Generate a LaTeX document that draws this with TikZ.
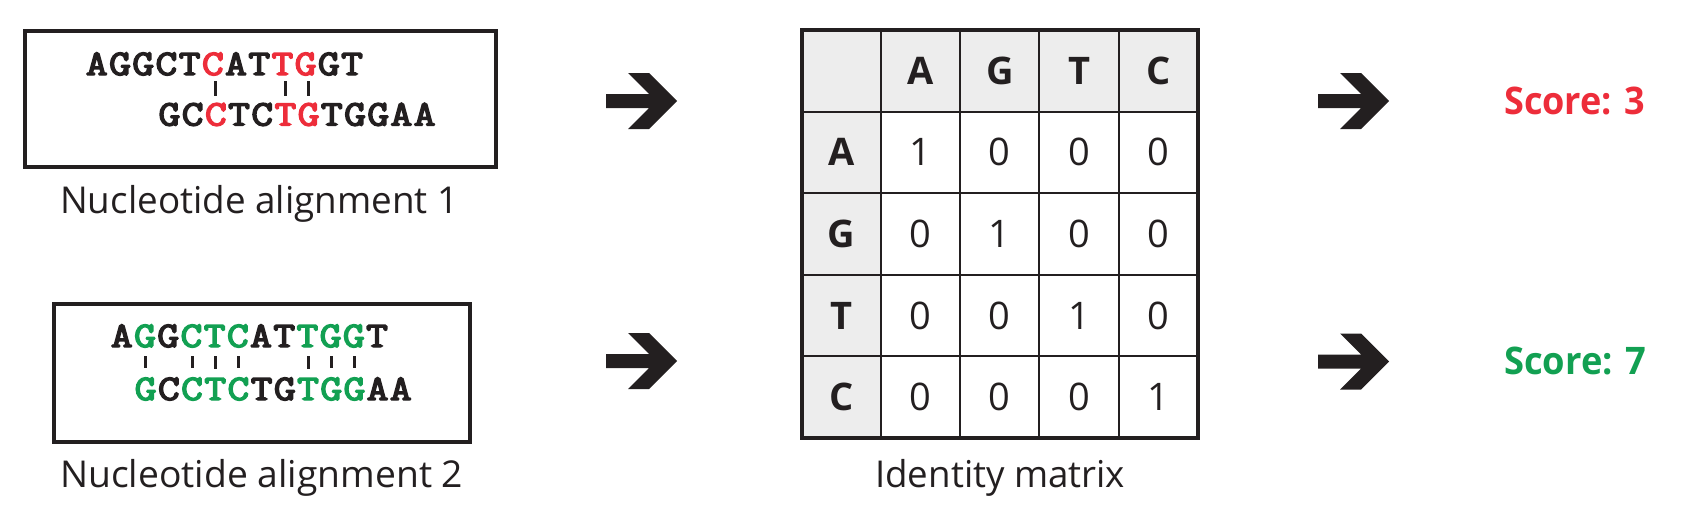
\documentclass[tikz,border=0pt]{standalone}
\usepackage{fontspec}
\usepackage{graphicx}
\newfontfamily\labfont{Open Sans}
\newfontfamily\seqfont{Latin Modern Mono}[FakeBold=4]
\usetikzlibrary{calc}
\definecolor{ink}{RGB}{35,31,32}
\definecolor{scorered}{RGB}{237,45,58}
\definecolor{scoregreen}{RGB}{18,160,82}
\definecolor{hdrgray}{RGB}{237,237,237}
\newcommand\fitto[2]{\resizebox{#1}{\height}{#2}}
\tikzset{
  chevron/.pic={\fill[ink] (-71,-7) -- (-28,-7) -- (-49,-28) -- (-28,-28) -- (0,0) -- (-28,28) -- (-49,28) -- (-28,7) -- (-71,7) -- cycle;},
  seq/.style={inner sep=0pt, anchor=base, font=\seqfont\fontsize{36}{36}\selectfont},
  bar/.style={draw=ink, line width=3pt},
  seqbox/.style={draw=ink, line width=4pt, inner sep=0pt},
  lab/.style={inner sep=0pt, anchor=base west, text=ink, font=\labfont\fontsize{37}{37}\selectfont},
  hdr/.style={inner sep=0pt, anchor=base, text=ink, font=\labfont\bfseries\fontsize{38}{38}\selectfont},
  num/.style={inner sep=0pt, anchor=base, text=ink, font=\labfont\fontsize{38}{38}\selectfont},
  score/.style={inner sep=0pt, anchor=base west, font=\labfont\bfseries\fontsize{38}{38}\selectfont},
}
\begin{document}
\begin{tikzpicture}[x=1pt,y=-1pt]
\useasboundingbox (0,0) rectangle (1685,523);

% ---------- alignment 1 ----------
\node[seqbox, minimum width=471pt, minimum height=136pt] (box1) at (260.5,99) {};
\foreach \c/\col [count=\i from 0] in {A/ink,G/ink,G/ink,C/ink,T/ink,C/scorered,A/ink,T/ink,T/scorered,G/scorered,G/ink,T/ink}
  \node[seq, text=\col] (ta\i) at (96.8+23.2*\i,75) {\scalebox{1.17}[1]{\c}};
\foreach \c/\col [count=\i from 0] in {G/ink,C/ink,C/scorered,T/ink,C/ink,T/scorered,G/scorered,T/ink,G/ink,G/ink,A/ink,A/ink}
  \node[seq, text=\col] (ba\i) at (169.4+23.2*\i,125.5) {\scalebox{1.17}[1]{\c}};
\foreach \t/\b in {5/2,8/5,9/6}
  \draw[bar, shorten <=6pt, shorten >=7pt] (ba\b.north |- ta\t.base) -- (ba\b.north);
\node[lab] (lab1) at (60,213) {\fitto{398pt}{Nucleotide alignment 1}};

% ---------- alignment 2 ----------
\node[seqbox, minimum width=416pt, minimum height=138pt] (box2) at (262,373) {};
\foreach \c/\col [count=\i from 0] in {A/ink,G/scoregreen,G/ink,C/scoregreen,T/scoregreen,C/scoregreen,A/ink,T/ink,T/scoregreen,G/scoregreen,G/scoregreen,T/ink}
  \node[seq, text=\col] (tb\i) at (121.8+23.2*\i,347) {\scalebox{1.17}[1]{\c}};
\foreach \c/\col [count=\i from 0] in {G/scoregreen,C/ink,C/scoregreen,T/scoregreen,C/scoregreen,T/ink,G/ink,T/scoregreen,G/scoregreen,G/scoregreen,A/ink,A/ink}
  \node[seq, text=\col] (bb\i) at (145.6+23.2*\i,400) {\scalebox{1.17}[1]{\c}};
\foreach \t/\b in {1/0,3/2,4/3,5/4,8/7,9/8,10/9}
  \draw[bar, shorten <=9pt, shorten >=9pt] (bb\b.north |- tb\t.base) -- (bb\b.north);
\node[lab] (lab2) at (60,487) {\fitto{403pt}{Nucleotide alignment 2}};

% ---------- arrows ----------
\pic at (677,101) {chevron};
\pic at (677,361) {chevron};
\pic at (1389,101) {chevron};
\pic at (1389,361.5) {chevron};

% ---------- identity matrix ----------
\fill[hdrgray] (801.5,30) rectangle (1198,111.6);
\fill[hdrgray] (801.5,111.6) rectangle (880.8,438);
\foreach \k in {1,...,4} {
  \draw[ink, line width=2pt] (801.5+79.3*\k,30) -- (801.5+79.3*\k,438);
  \draw[ink, line width=2pt] (801.5,30+81.6*\k) -- (1198,30+81.6*\k);
}
\node[draw=ink, line width=4pt, inner sep=0pt, minimum width=396.5pt, minimum height=408pt] (tbl) at (999.75,234) {};
\foreach \h [count=\k] in {A,G,T,C} {
  \node[hdr] (ch\k) at (841.15+79.3*\k,84.3) {\h};
  \node[hdr] (rh\k) at (841.15,84.3+81.6*\k) {\h};
}
\foreach \r in {1,...,4}
  \foreach \c in {1,...,4} {
    \pgfmathtruncatemacro\v{\r==\c ? 1 : 0}
    \node[num] (v\r\c) at (841.15+79.3*\c,84.3+81.6*\r) {\v};
  }
\node[lab] (lab3) at (875,487) {\fitto{250pt}{Identity matrix}};

% ---------- scores ----------
\node[score, text=scorered] (s1) at (1504,114) {\fitto{141pt}{Score: 3}};
\node[score, text=scoregreen] (s2) at (1504,374) {\fitto{142pt}{Score: 7}};
\end{tikzpicture}
\end{document}
